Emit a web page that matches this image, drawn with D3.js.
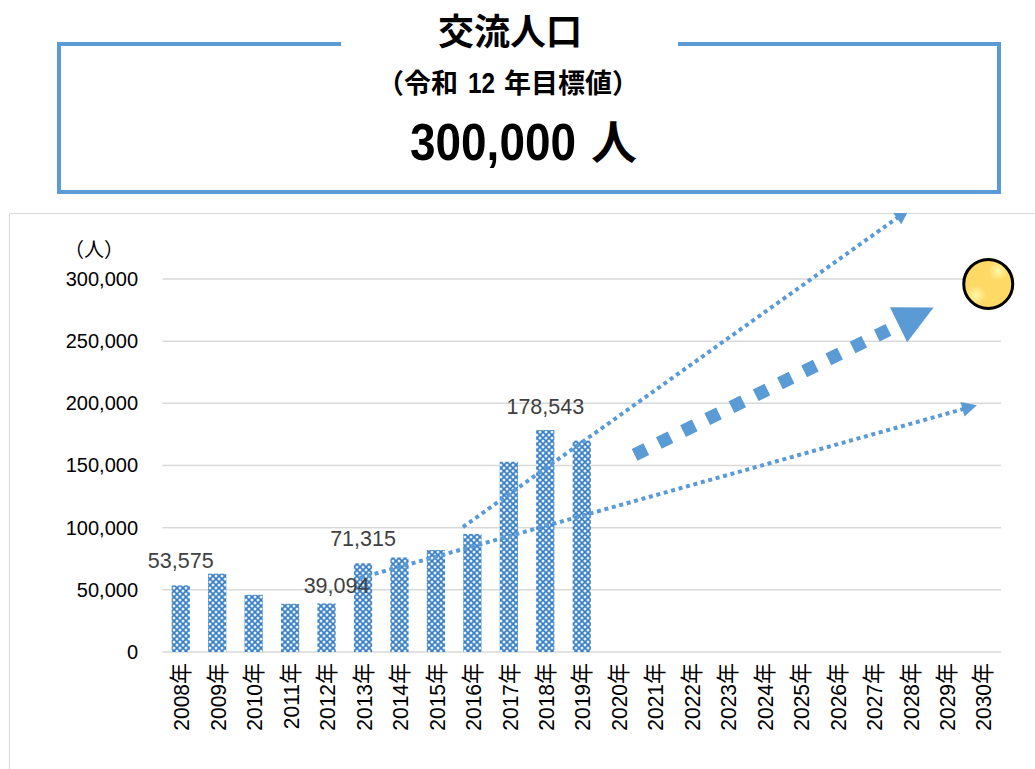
<!DOCTYPE html>
<html>
<head>
<meta charset="utf-8">
<script src="https://cdn.jsdelivr.net/npm/d3@7"></script>
<style>
  html, body { margin: 0; padding: 0; background: #fff; }
  svg { display: block; }
  text { font-family: "Liberation Sans", "Noto Sans CJK JP", sans-serif; }
  .head { font-family: "Noto Sans CJK JP", sans-serif; font-weight: 700; fill: #000; }
  .digits { font-family: "Liberation Sans", sans-serif; font-weight: 700; fill: #000; }
  .axis .domain, .axis .tick line { display: none; }
  .axis text { fill: #000; font-size: 20px; }
  .x.axis text { font-size: 21px; }
  .grid line { stroke: #d9d9d9; stroke-width: 1.5; }
  .bar-label { fill: #404040; font-size: 21.5px; text-anchor: middle; }
</style>
</head>
<body>
<div id="chart"></div>
<script>
var years = ["2008年","2009年","2010年","2011年","2012年","2013年","2014年","2015年","2016年","2017年","2018年","2019年","2020年","2021年","2022年","2023年","2024年","2025年","2026年","2027年","2028年","2029年","2030年"];
var visitors = [53575,63000,46000,38800,39094,71315,76000,82000,95000,153000,178543,170000];
var labelled = ["2008年","2012年","2013年","2018年"];
var yTicks = [0,50000,100000,150000,200000,250000,300000];

// trend arrows, in (year offset from 2008, people)
var arrowUpper = [[7.74,100500],[19.98,356000]];
var arrowMiddle = [[12.45,158500],[20.65,277000]];
var arrowLower = [[4.91,59500],[21.84,198500]];
var goal = [22.15,296000];

var w = 1035, h = 769;
var blue = "#5b9bd5";

var svg = d3.select("#chart").append("svg")
  .attr("width", w)
  .attr("height", h);

var defs = svg.append("defs");

var tile = defs.append("pattern")
  .attr("id", "weave")
  .attr("patternUnits", "userSpaceOnUse")
  .attr("width", 6)
  .attr("height", 6);
tile.append("rect").attr("width", 6).attr("height", 6).attr("fill", "#3a80c4");
[[0,0],[6,0],[0,6],[6,6],[3,3]].forEach(function(c) {
  tile.append("circle").attr("cx", c[0]).attr("cy", c[1]).attr("r", 1.5).attr("fill", "#e6eff8");
});

var glow = defs.append("radialGradient").attr("id", "glow");
glow.append("stop").attr("offset", "0%").attr("stop-color", "#fff9a8");
glow.append("stop").attr("offset", "100%").attr("stop-color", "#fff9a8").attr("stop-opacity", 0);

defs.append("clipPath").attr("id", "plot-clip")
  .append("rect").attr("x", 0).attr("y", 213).attr("width", w).attr("height", h - 213);

// goal box
var boxLine = d3.path();
boxLine.moveTo(341, 44);
boxLine.lineTo(59, 44);
boxLine.lineTo(59, 192);
boxLine.lineTo(999, 192);
boxLine.lineTo(999, 44);
boxLine.lineTo(678, 44);
svg.append("path")
  .attr("d", boxLine.toString())
  .attr("fill", "none")
  .attr("stroke", blue)
  .attr("stroke-width", 4);

svg.append("text").attr("class", "head").attr("text-anchor", "middle").attr("x", 510).attr("y", 45).attr("font-size", 36).text("交流人口");

// the digits in the heading are condensed, so each run is placed on its own
svg.append("text").attr("class", "head").attr("x", 377).attr("y", 93).attr("font-size", 27).text("（令和");
svg.append("text").attr("class", "digits").attr("x", 468).attr("y", 93).attr("font-size", 29)
  .attr("textLength", 27).attr("lengthAdjust", "spacingAndGlyphs").text("12");
svg.append("text").attr("class", "head").attr("x", 504).attr("y", 93).attr("font-size", 27).text("年目標値）");

svg.append("text").attr("class", "digits").attr("x", 410).attr("y", 160).attr("font-size", 51)
  .attr("textLength", 166).attr("lengthAdjust", "spacingAndGlyphs").text("300,000");
svg.append("text").attr("class", "head").attr("x", 591).attr("y", 159).attr("font-size", 46).text("人");

// chart frame
svg.append("path")
  .attr("d", "M1036,213.5H9.5V770")
  .attr("fill", "none")
  .attr("stroke", "#d9d9d9");

var xScale = d3.scaleBand()
  .domain(years)
  .range([162.5, 1001])
  .paddingInner(0.5)
  .paddingOuter(0.25);

var yScale = d3.scaleLinear()
  .domain([0, 300000])
  .range([652, 279]);

var pos = function(p) {
  return [xScale(years[0]) + xScale.bandwidth() / 2 + p[0] * xScale.step(), yScale(p[1])];
};

svg.append("g")
  .attr("class", "grid")
  .selectAll("line")
  .data(yTicks)
  .enter().append("line")
  .attr("x1", xScale.range()[0])
  .attr("x2", xScale.range()[1])
  .attr("y1", function(d) { return yScale(d); })
  .attr("y2", function(d) { return yScale(d); });

svg.append("g")
  .selectAll("rect")
  .data(visitors)
  .enter().append("rect")
  .attr("x", function(d, i) { return xScale(years[i]); })
  .attr("y", function(d) { return yScale(d); })
  .attr("width", xScale.bandwidth())
  .attr("height", function(d) { return yScale(0) - yScale(d); })
  .attr("fill", "url(#weave)");

var yAxis = d3.axisLeft(yScale).tickValues(yTicks).tickFormat(d3.format(",")).tickSize(0).tickPadding(24);
svg.append("g")
  .attr("class", "y axis")
  .attr("transform", "translate(162,0)")
  .call(yAxis);

var xAxis = d3.axisBottom(xScale).tickSize(0);
svg.append("g")
  .attr("class", "x axis")
  .attr("transform", "translate(0,652)")
  .call(xAxis)
  .selectAll("text")
  .attr("text-anchor", "end")
  .attr("dx", 0)
  .attr("dy", 0)
  .attr("transform", "translate(5.5,11) rotate(-90) scale(1,1.06)");

svg.append("text")
  .attr("x", 94).attr("y", 257)
  .attr("font-size", 20)
  .attr("text-anchor", "middle")
  .attr("fill", "#000")
  .text("（人）");

// data labels
var labelOffset = { "2008年": [0, -17], "2012年": [10, -10], "2013年": [0, -17], "2018年": [0, -16] };
svg.append("g")
  .selectAll("text")
  .data(labelled)
  .enter().append("text")
  .attr("class", "bar-label")
  .attr("x", function(d) { return xScale(d) + xScale.bandwidth() / 2 + labelOffset[d][0]; })
  .attr("y", function(d) { return yScale(visitors[years.indexOf(d)]) + labelOffset[d][1]; })
  .text(function(d) { return d3.format(",")(visitors[years.indexOf(d)]); });

// arrows
var drawArrow = function(pts, sw, dash, head) {
  var a = pos(pts[0]), b = pos(pts[1]);
  var ang = Math.atan2(b[1] - a[1], b[0] - a[0]);
  var g = svg.append("g").attr("clip-path", "url(#plot-clip)");
  g.append("line")
    .attr("x1", a[0]).attr("y1", a[1])
    .attr("x2", b[0] - Math.cos(ang) * head * 0.9)
    .attr("y2", b[1] - Math.sin(ang) * head * 0.9)
    .attr("stroke", blue)
    .attr("stroke-width", sw)
    .attr("stroke-dasharray", dash);
  g.append("path")
    .attr("d", "M0,0L" + (-head) + "," + (-head / 2) + "L" + (-head) + "," + (head / 2) + "Z")
    .attr("transform", "translate(" + b[0] + "," + b[1] + ") rotate(" + (ang * 180 / Math.PI) + ")")
    .attr("fill", blue);
};
drawArrow(arrowUpper, 4, "4 3.7", 15);
drawArrow(arrowLower, 4, "4 3.7", 15);
drawArrow(arrowMiddle, 13, "13 14", 39);

// goal marker with two pale highlights
var g = pos(goal);
svg.append("circle")
  .attr("cx", g[0]).attr("cy", g[1]).attr("r", 24.5)
  .attr("fill", "#ffd966");
svg.append("circle")
  .attr("cx", g[0] + 10).attr("cy", g[1] - 13).attr("r", 10)
  .attr("fill", "url(#glow)");
svg.append("circle")
  .attr("cx", g[0] - 12).attr("cy", g[1] + 11).attr("r", 10)
  .attr("fill", "url(#glow)");
svg.append("circle")
  .attr("cx", g[0]).attr("cy", g[1]).attr("r", 24.5)
  .attr("fill", "none")
  .attr("stroke", "#000")
  .attr("stroke-width", 3);
</script>
</body>
</html>
